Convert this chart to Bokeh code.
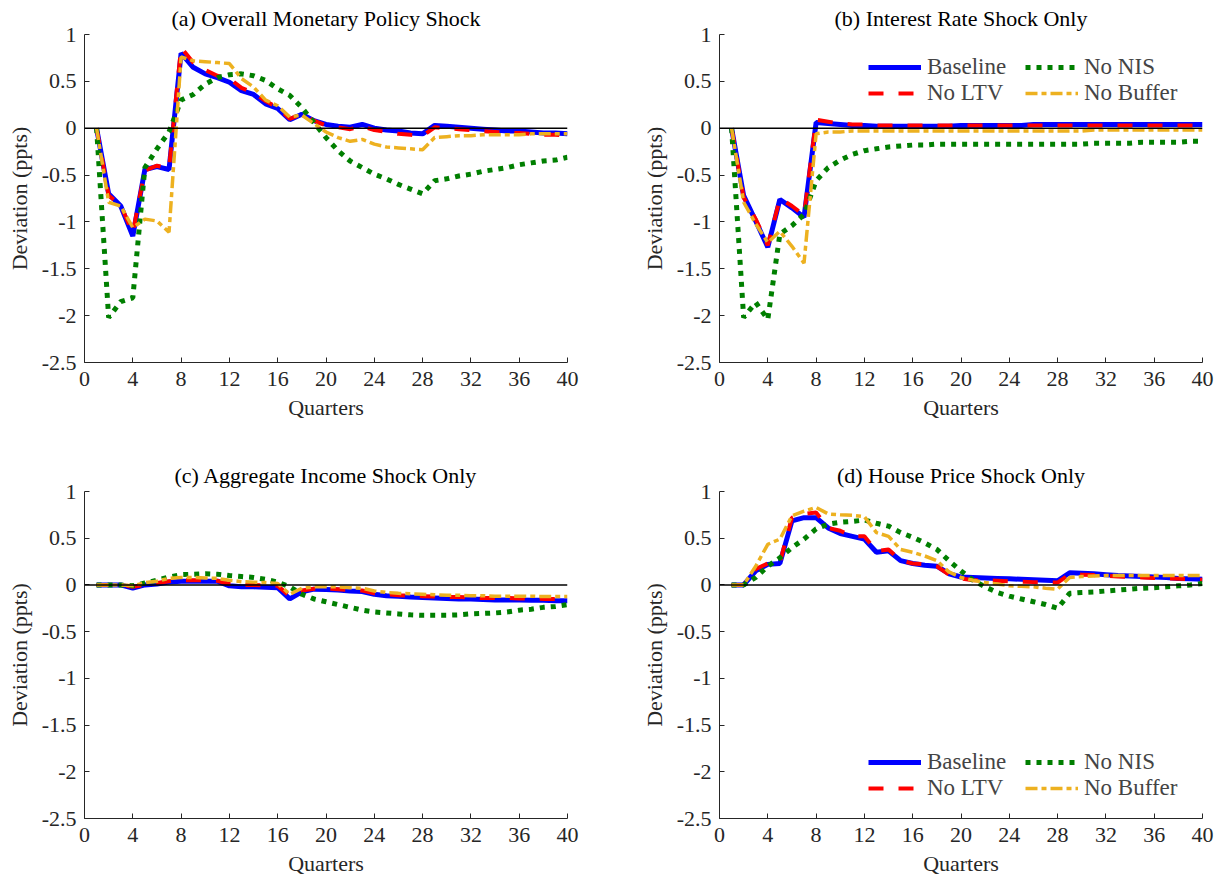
from bokeh.plotting import figure
from bokeh.layouts import column, row
from bokeh.models import Range1d, FixedTicker, Span, Legend, LegendItem
from bokeh.embed import file_html
from bokeh.resources import INLINE

quarters = list(range(1, 41))

x_ticks = list(range(0, 41, 4))
y_ticks = [-2.5, -2, -1.5, -1, -0.5, 0, 0.5, 1]
y_tick_labels = ["-2.5", "-2", "-1.5", "-1", "-0.5", "0", "0.5", "1"]

titles = [
    "(a) Overall Monetary Policy Shock",
    "(b) Interest Rate Shock Only",
    "(c) Aggregate Income Shock Only",
    "(d) House Price Shock Only",
]
series_names = ["Baseline", "No LTV", "No NIS", "No Buffer"]

# (a) Overall monetary policy shock
a_baseline = [0, -0.70, -0.83, -1.15, -0.44, -0.41, -0.44, 0.80, 0.65, 0.58,
              0.54, 0.49, 0.40, 0.36, 0.26, 0.21, 0.09, 0.15, 0.08, 0.04,
              0.02, 0.01, 0.04, 0.00, -0.02, -0.03, -0.05, -0.06, 0.03, 0.02,
              0.01, 0.00, -0.01, -0.02, -0.03, -0.03, -0.04, -0.05, -0.05, -0.06]
a_no_ltv = [0, -0.72, -0.82, -1.12, -0.45, -0.40, -0.43, 0.86, 0.70, 0.62,
            0.56, 0.53, 0.43, 0.38, 0.29, 0.22, 0.10, 0.15, 0.08, 0.03,
            0.01, -0.01, 0.02, -0.02, -0.04, -0.06, -0.07, -0.08, 0.01, 0.00,
            -0.01, -0.02, -0.03, -0.04, -0.05, -0.05, -0.06, -0.07, -0.07, -0.08]
a_no_nis = [0, -2.02, -1.85, -1.81, -0.42, -0.22, -0.04, 0.30, 0.36, 0.47,
            0.54, 0.57, 0.58, 0.56, 0.51, 0.42, 0.35, 0.22, 0.06, -0.10,
            -0.24, -0.35, -0.42, -0.49, -0.54, -0.60, -0.65, -0.70, -0.56, -0.54,
            -0.51, -0.49, -0.46, -0.44, -0.42, -0.39, -0.37, -0.35, -0.34, -0.31]
a_no_buffer = [0, -0.79, -0.83, -1.06, -0.97, -0.99, -1.11, 0.76, 0.72, 0.71,
               0.70, 0.69, 0.53, 0.44, 0.30, 0.24, 0.12, 0.14, 0.05, -0.04,
               -0.10, -0.14, -0.12, -0.17, -0.20, -0.21, -0.22, -0.23, -0.10, -0.09,
               -0.08, -0.08, -0.07, -0.07, -0.07, -0.07, -0.06, -0.06, -0.06, -0.06]

# (b) Interest rate shock only
b_baseline = [0, -0.72, -0.99, -1.27, -0.76, -0.85, -0.95, 0.06, 0.05, 0.04,
              0.03, 0.03, 0.02, 0.02, 0.02, 0.02, 0.02, 0.02, 0.02, 0.03,
              0.03, 0.03, 0.03, 0.03, 0.03, 0.04, 0.04, 0.04, 0.04, 0.04,
              0.04, 0.04, 0.04, 0.04, 0.04, 0.04, 0.04, 0.04, 0.04, 0.04]
b_no_ltv = [0, -0.74, -0.97, -1.25, -0.75, -0.83, -0.93, 0.09, 0.07, 0.05,
            0.04, 0.04, 0.03, 0.03, 0.03, 0.03, 0.03, 0.03, 0.03, 0.03,
            0.03, 0.03, 0.03, 0.03, 0.03, 0.03, 0.03, 0.03, 0.03, 0.03,
            0.03, 0.03, 0.03, 0.03, 0.03, 0.03, 0.03, 0.03, 0.03, 0.03]
b_no_nis = [0, -2.02, -1.86, -2.04, -1.13, -1.04, -0.92, -0.56, -0.42, -0.34,
            -0.28, -0.24, -0.22, -0.20, -0.19, -0.18, -0.18, -0.17, -0.17, -0.17,
            -0.17, -0.17, -0.17, -0.17, -0.17, -0.17, -0.17, -0.17, -0.17, -0.17,
            -0.16, -0.16, -0.16, -0.16, -0.15, -0.15, -0.15, -0.15, -0.14, -0.14]
b_no_buffer = [0, -0.79, -1.02, -1.22, -1.10, -1.26, -1.44, -0.06, -0.04, -0.04,
               -0.03, -0.03, -0.03, -0.03, -0.03, -0.03, -0.03, -0.03, -0.03, -0.03,
               -0.03, -0.03, -0.03, -0.03, -0.03, -0.03, -0.03, -0.03, -0.03, -0.03,
               -0.02, -0.02, -0.02, -0.02, -0.02, -0.02, -0.02, -0.02, -0.02, -0.02]

# (c) Aggregate income shock only
c_baseline = [0, 0, 0, -0.035, 0, 0.01, 0.03, 0.04, 0.04, 0.04,
              0.04, -0.01, -0.02, -0.02, -0.025, -0.03, -0.15, -0.075, -0.045, -0.05,
              -0.055, -0.065, -0.07, -0.10, -0.115, -0.12, -0.13, -0.135, -0.14, -0.145,
              -0.15, -0.15, -0.155, -0.16, -0.16, -0.16, -0.165, -0.165, -0.17, -0.17]
c_no_ltv = [0, 0, 0, -0.02, 0, 0.02, 0.04, 0.05, 0.05, 0.05,
            0.045, 0.01, 0.0, 0.0, -0.005, -0.01, -0.12, -0.06, -0.04, -0.04,
            -0.045, -0.055, -0.06, -0.09, -0.10, -0.11, -0.115, -0.12, -0.125, -0.13,
            -0.13, -0.135, -0.14, -0.14, -0.14, -0.145, -0.145, -0.15, -0.15, -0.15]
c_no_nis = [0, 0, 0, -0.01, 0.02, 0.05, 0.085, 0.11, 0.115, 0.12,
            0.115, 0.10, 0.09, 0.08, 0.06, 0.03, -0.02, -0.10, -0.15, -0.18,
            -0.21, -0.24, -0.27, -0.29, -0.30, -0.31, -0.32, -0.325, -0.325, -0.325,
            -0.32, -0.31, -0.305, -0.30, -0.29, -0.27, -0.26, -0.24, -0.23, -0.21]
c_no_buffer = [0, 0, 0, -0.01, 0.025, 0.04, 0.07, 0.08, 0.08, 0.075,
               0.07, 0.05, 0.035, 0.03, 0.025, 0.015, -0.10, -0.035, -0.02, -0.02,
               -0.02, -0.03, -0.035, -0.065, -0.08, -0.09, -0.095, -0.10, -0.105, -0.11,
               -0.11, -0.115, -0.115, -0.12, -0.12, -0.12, -0.12, -0.125, -0.125, -0.125]

# (d) House price shock only
d_baseline = [0, 0, 0.15, 0.22, 0.23, 0.685, 0.72, 0.72, 0.61, 0.55,
              0.52, 0.49, 0.35, 0.365, 0.26, 0.23, 0.21, 0.20, 0.12, 0.085,
              0.08, 0.075, 0.07, 0.065, 0.06, 0.055, 0.05, 0.045, 0.13, 0.125,
              0.12, 0.11, 0.10, 0.095, 0.09, 0.085, 0.08, 0.07, 0.065, 0.06]
d_no_ltv = [0, 0, 0.17, 0.23, 0.24, 0.72, 0.76, 0.775, 0.61, 0.58,
            0.52, 0.52, 0.36, 0.38, 0.26, 0.23, 0.22, 0.20, 0.11, 0.07,
            0.05, 0.05, 0.045, 0.04, 0.035, 0.03, 0.03, 0.025, 0.115, 0.11,
            0.105, 0.10, 0.09, 0.085, 0.08, 0.075, 0.07, 0.065, 0.06, 0.055]
d_no_nis = [0, 0, 0.08, 0.20, 0.29, 0.40, 0.49, 0.60, 0.65, 0.67,
            0.68, 0.695, 0.66, 0.63, 0.56, 0.51, 0.45, 0.38, 0.26, 0.15,
            0.05, -0.02, -0.08, -0.12, -0.15, -0.18, -0.21, -0.25, -0.09, -0.08,
            -0.075, -0.065, -0.055, -0.045, -0.035, -0.03, -0.02, -0.01, 0.0, 0.015]
d_no_buffer = [0, 0, 0.20, 0.435, 0.49, 0.74, 0.79, 0.83, 0.76, 0.75,
               0.745, 0.73, 0.56, 0.52, 0.38, 0.35, 0.31, 0.26, 0.14, 0.08,
               0.05, 0.025, 0.01, -0.01, -0.015, -0.02, -0.035, -0.045, 0.08, 0.09,
               0.095, 0.10, 0.10, 0.10, 0.10, 0.10, 0.10, 0.10, 0.10, 0.10]

panels = [
    [a_baseline, a_no_ltv, a_no_nis, a_no_buffer],
    [b_baseline, b_no_ltv, b_no_nis, b_no_buffer],
    [c_baseline, c_no_ltv, c_no_nis, c_no_buffer],
    [d_baseline, d_no_ltv, d_no_nis, d_no_buffer],
]

FONT = "Liberation Serif"
styles = [
    dict(line_color="#0000FF", line_width=5, line_dash="solid"),
    dict(line_color="#FF0000", line_width=4, line_dash="15 15"),
    dict(line_color="#007F00", line_width=5, line_dash="5 6"),
    dict(line_color="#EDB120", line_width=3.5, line_dash="12 4 5 4"),
]

# (width, height, border_left, border_right, border_top, border_bottom)
geometry = [
    (635, 440, 84, 68, 34, 78),
    (590, 440, 84, 23, 34, 78),
    (635, 441, 84, 68, 51, 63),
    (590, 441, 84, 23, 51, 63),
]
legend_spots = {1: (149, 256), 3: (149, 17)}


def make_panel(i):
    w, h, bl, br, bt, bb = geometry[i]
    p = figure(width=w, height=h, output_backend="svg", toolbar_location=None,
               x_range=Range1d(0, 40), y_range=Range1d(-2.5, 1),
               min_border_left=bl, min_border_right=br,
               min_border_top=bt, min_border_bottom=bb,
               title=titles[i])
    p.title.align = "center"
    p.title.text_font = FONT
    p.title.text_font_size = "22px"
    p.title.text_font_style = "normal"
    p.title.text_color = "#000000"
    p.title.standoff = 7
    p.outline_line_color = None
    p.xgrid.visible = False
    p.ygrid.visible = False

    p.xaxis.ticker = FixedTicker(ticks=x_ticks)
    p.yaxis.ticker = FixedTicker(ticks=y_ticks)
    p.yaxis.major_label_overrides = dict(zip(y_ticks, y_tick_labels))
    p.xaxis.axis_label = "Quarters"
    p.yaxis.axis_label = "Deviation (ppts)"
    for ax in (p.xaxis, p.yaxis):
        ax.axis_line_color = "#262626"
        ax.major_tick_line_color = "#262626"
        ax.major_tick_in = 5
        ax.major_tick_out = 0
        ax.minor_tick_line_color = None
        ax.major_label_text_font = FONT
        ax.major_label_text_font_size = "22px"
        ax.major_label_text_color = "#262626"
        ax.axis_label_text_font = FONT
        ax.axis_label_text_font_size = "22px"
        ax.axis_label_text_font_style = "normal"
        ax.axis_label_text_color = "#262626"
    p.yaxis.major_label_standoff = 8
    p.xaxis.major_label_standoff = 9
    p.yaxis.axis_label_standoff = 7
    p.xaxis.axis_label_standoff = 6

    p.add_layout(Span(location=0, dimension="width", line_color="black", line_width=1.6))

    renderers = []
    for vals, st in zip(panels[i], styles):
        renderers.append(p.line(quarters, vals, **st))

    if i in legend_spots:
        items = [LegendItem(label=series_names[k], renderers=[renderers[k]]) for k in range(4)]
        leg = Legend(items=items, location=legend_spots[i], ncols=2,
                     label_text_font=FONT, label_text_font_size="23px",
                     glyph_width=53, glyph_height=20, label_height=20,
                     label_width=98, label_standoff=6, spacing=0,
                     padding=0, margin=0,
                     border_line_alpha=0, background_fill_alpha=0)
        p.add_layout(leg, "center")
    return p


figs = [make_panel(i) for i in range(4)]
layout = column(row(figs[0], figs[1]), row(figs[2], figs[3]))
open("out.html", "w").write(file_html(layout, INLINE))
